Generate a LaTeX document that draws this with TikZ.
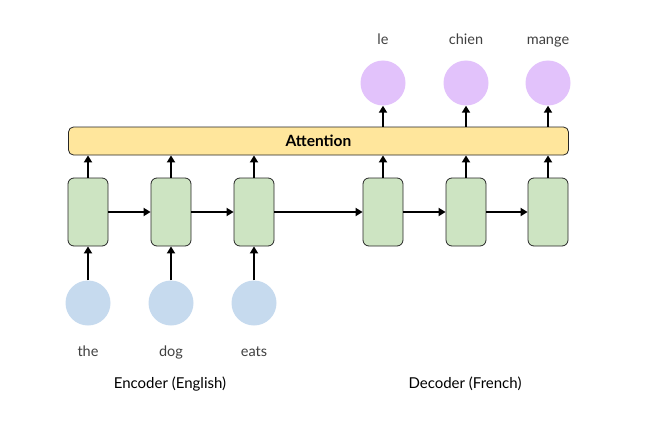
\documentclass[tikz,border=0pt]{standalone}
\usepackage{fontspec}
\setmainfont{Lato}
\usetikzlibrary{arrows.meta}
\definecolor{cellgreen}{HTML}{CDE4C2}
\definecolor{attyellow}{HTML}{FFE69C}
\definecolor{outpurple}{HTML}{E2C2FB}
\definecolor{inblue}{HTML}{C6DAEE}
\tikzset{
  cell/.style={draw=black!85, line width=0.8pt, fill=cellgreen, rounded corners=6pt, minimum width=40pt, minimum height=68pt, inner sep=0pt},
  attbox/.style={draw=black!85, line width=0.8pt, fill=attyellow, rounded corners=5pt, minimum width=500pt, minimum height=28pt, inner sep=0pt, font=\fontsize{15.5}{17}\selectfont\bfseries},
  outcirc/.style={circle, fill=outpurple, minimum size=45pt, inner sep=0pt},
  incirc/.style={circle, fill=inblue, minimum size=45pt, inner sep=0pt},
  word/.style={font=\fontsize{14.5}{17}\selectfont, text=black!75, inner sep=0pt, anchor=base},
  caption/.style={font=\fontsize{15}{18}\selectfont, inner sep=0pt, anchor=base},
  arr/.style={-{Triangle[length=7pt,width=8pt]}, line width=2.4pt}
}
\begin{document}
\begin{tikzpicture}[x=1pt,y=-1pt]
\useasboundingbox (0,0) rectangle (647,425);
\node[attbox] (att) at (318.5,141) {Attention};
\node[cell] (e1) at (88,212) {};
\node[cell] (e2) at (171,212) {};
\node[cell] (e3) at (254,212) {};
\node[cell] (d1) at (383,212) {};
\node[cell] (d2) at (466,212) {};
\node[cell] (d3) at (548,212) {};
\node[incirc] (i1) at (88,303) {};
\node[incirc] (i2) at (171,303) {};
\node[incirc] (i3) at (254,303) {};
\node[outcirc] (o1) at (383,83) {};
\node[outcirc] (o2) at (466,83) {};
\node[outcirc] (o3) at (548,83) {};
\node[word] (w1) at (88,356) {the};
\node[word] (w2) at (171,356) {dog};
\node[word] (w3) at (254,356) {eats};
\node[word] (f1) at (383,45) {le};
\node[word] (f2) at (466,45) {chien};
\node[word] (f3) at (548,45) {mange};
\node[caption] (enc) at (170,388) {Encoder (English)};
\node[caption] (dec) at (465,388) {Decoder (French)};
% input arrows
\foreach \i/\e in {i1/e1,i2/e2,i3/e3} \draw[arr] (\i.north) -- (\e.south);
% recurrent arrows
\draw[arr] (e1.east) -- (e2.west);
\draw[arr] (e2.east) -- (e3.west);
\draw[arr] (e3.east) -- (d1.west);
\draw[arr] (d1.east) -- (d2.west);
\draw[arr] (d2.east) -- (d3.west);
% to attention
\foreach \e in {e1,e2,e3,d1,d2,d3} \draw[arr] (\e.north) -- (\e.north |- att.south);
% to outputs
\foreach \d/\o in {d1/o1,d2/o2,d3/o3} \draw[arr] (\d |- att.north) -- (\o.south);
\end{tikzpicture}
\end{document}
